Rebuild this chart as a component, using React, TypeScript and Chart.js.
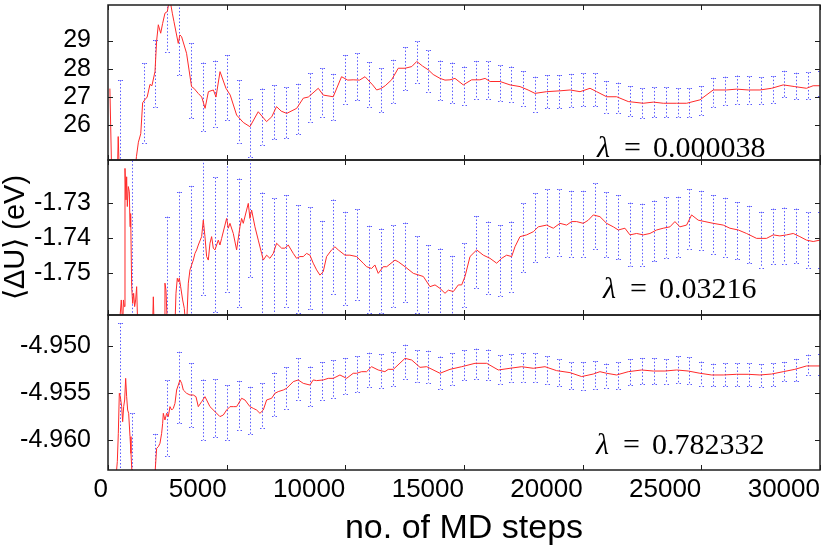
import { useEffect, useRef } from 'react';
import { Chart, registerables } from 'chart.js';

Chart.register(...registerables);

// ---------------- data ----------------
const X_TICKS = [0, 5000, 10000, 15000, 20000, 25000, 30000];
const X_TICK_LABELS = ['0', '5000', '10000', '15000', '20000', '25000', '30000'];
const X_RANGE = [0, 30000];

const TOP_RANGE = [24.77, 30.26];
const TOP_Y_TICKS = [26, 27, 28, 29];
const TOP_Y_LABELS = ['26', '27', '28', '29'];
const MID_RANGE = [-1.7621, -1.7178];
const MID_Y_TICKS = [-1.75, -1.74, -1.73];
const MID_Y_LABELS = ['-1.75', '-1.74', '-1.73'];
const BOT_RANGE = [-4.96314, -4.94665];
const BOT_Y_TICKS = [-4.96, -4.955, -4.95];
const BOT_Y_LABELS = ['-4.960', '-4.955', '-4.950'];

const LAMBDAS = ['0.000038', '0.03216', '0.782332'];

const Y_TITLE = '\u27E8\u0394U\u27E9 (eV)';
const X_TITLE = 'no. of MD steps';

// running average <dU> (x = MD step, y = eV)
const TOP_TRACE: [number, number][] = [
  [80, 27.3], [150, 24.5], [400, 24.4], [430, 25.6], [470, 24.5], [1150, 24.5], [1200, 24.9], [1280, 25.4], [1380, 25.7], [1460, 26.8],
  [1550, 26.9], [1650, 27.0], [1770, 27.45], [1850, 27.4], [1980, 27.9], [2050, 29.0], [2120, 29.56], [2220, 29.26], [2300, 29.6], [2400, 29.97],
  [2500, 30.03], [2600, 30.5], [2710, 29.97], [2780, 29.67], [2960, 28.9], [3030, 29.2], [3100, 29.14], [3310, 28.55], [3520, 27.37], [3620, 27.31],
  [3800, 27.13], [3950, 27.0], [4090, 26.6], [4230, 27.19], [4440, 27.25], [4550, 27.0], [4720, 27.9], [4970, 27.31], [5150, 27.07], [5420, 26.36],
  [5700, 26.1], [5980, 25.95], [6330, 26.48], [6680, 26.13], [6900, 26.3], [7100, 26.66], [7300, 26.5], [7530, 26.42], [7950, 26.6], [8230, 26.96],
  [8440, 27.0], [8860, 27.31], [9070, 27.07], [9490, 27.01], [9840, 27.72], [10100, 27.6], [10330, 27.61], [10600, 27.6], [10830, 27.72], [11150, 27.43],
  [11320, 27.25], [11500, 27.3], [11680, 27.4], [11950, 27.61], [12230, 28.02], [12520, 28.02], [12800, 28.08], [13010, 28.26], [13250, 28.1], [13500, 27.96],
  [13700, 27.8], [13990, 27.66], [14200, 27.6], [14410, 27.61], [14620, 27.66], [14970, 27.43], [15320, 27.61], [15670, 27.61], [15890, 27.66], [16100, 27.55],
  [16520, 27.55], [16940, 27.43], [17360, 27.37], [17700, 27.25], [17990, 27.13], [18480, 27.19], [19040, 27.22], [19470, 27.25], [19890, 27.19], [20310, 27.31],
  [20590, 27.19], [21010, 27.01], [21430, 27.01], [21920, 26.84], [22550, 26.78], [22980, 26.82], [23400, 26.78], [23960, 26.78], [24380, 26.78], [24940, 26.9],
  [25500, 27.25], [26060, 27.25], [26490, 27.28], [26980, 27.25], [27470, 27.25], [27960, 27.31], [28450, 27.43], [28940, 27.37], [29430, 27.31], [29710, 27.4], [29995, 27.4],
];

const MID_TRACE: [number, number][] = [
  [480, -1.765], [560, -1.7578], [620, -1.765], [650, -1.7578], [688, -1.7597], [716, -1.7202], [758, -1.7292], [786, -1.7226], [814, -1.7311], [856, -1.7254],
  [899, -1.7269], [927, -1.7369], [955, -1.7331], [997, -1.754], [1039, -1.7588], [1081, -1.7559], [1123, -1.7597], [1165, -1.7578], [1207, -1.754], [1250, -1.765],
  [1880, -1.765], [1910, -1.7569], [1940, -1.765], [2360, -1.765], [2400, -1.753], [2443, -1.755], [2500, -1.765], [2822, -1.765], [2864, -1.7559], [2920, -1.7516],
  [2962, -1.7526], [3005, -1.7516], [3061, -1.754], [3145, -1.7578], [3215, -1.7602], [3271, -1.765], [3313, -1.765], [3384, -1.753], [3454, -1.7492], [3524, -1.7478],
  [3594, -1.7464], [3664, -1.7445], [3735, -1.7435], [3805, -1.7421], [3945, -1.7397], [4015, -1.735], [4086, -1.7397], [4156, -1.7454], [4226, -1.7464], [4296, -1.7416],
  [4366, -1.7397], [4437, -1.743], [4507, -1.7435], [4647, -1.7407], [4717, -1.7421], [4788, -1.7402], [4928, -1.7364], [4998, -1.7345], [5069, -1.7373], [5139, -1.7359],
  [5279, -1.7388], [5419, -1.7435], [5560, -1.7369], [5630, -1.7345], [5700, -1.7359], [5840, -1.7321], [5911, -1.7302], [5981, -1.7345], [6051, -1.7321], [6192, -1.7369],
  [6332, -1.7407], [6473, -1.7445], [6543, -1.7464], [6683, -1.745], [6823, -1.7459], [6964, -1.7445], [7104, -1.7416], [7315, -1.743], [7455, -1.743], [7596, -1.7421],
  [7806, -1.7445], [7946, -1.7459], [8087, -1.7454], [8227, -1.7454], [8368, -1.7445], [8508, -1.745], [8648, -1.7473], [8789, -1.7492], [8930, -1.7507], [9070, -1.7497],
  [9210, -1.7454], [9421, -1.7435], [9561, -1.7426], [9702, -1.7435], [9983, -1.745], [10193, -1.745], [10474, -1.7454], [10755, -1.7473], [10895, -1.7483], [11106, -1.7488],
  [11246, -1.7478], [11386, -1.7502], [11597, -1.7483], [11743, -1.7483], [12094, -1.7464], [12234, -1.7469], [12515, -1.7483], [12866, -1.7502], [13287, -1.7511], [13568, -1.754],
  [13779, -1.7535], [13989, -1.7545], [14200, -1.7559], [14340, -1.755], [14551, -1.7554], [14761, -1.7535], [14902, -1.7535], [15042, -1.7511], [15253, -1.7454], [15534, -1.7435],
  [15814, -1.745], [16095, -1.7459], [16376, -1.7473], [16587, -1.7459], [16797, -1.745], [17008, -1.7454], [17148, -1.7426], [17359, -1.7397], [17640, -1.7392], [17920, -1.7383],
  [18131, -1.7369], [18482, -1.7364], [18763, -1.7373], [19044, -1.7359], [19324, -1.7364], [19535, -1.7354], [19745, -1.7354], [20026, -1.7359], [20237, -1.735], [20448, -1.7335],
  [20728, -1.734], [21009, -1.7359], [21290, -1.7369], [21501, -1.7378], [21781, -1.7373], [21992, -1.7392], [22273, -1.7388], [22554, -1.7392], [22834, -1.7388], [23115, -1.7378],
  [23396, -1.7373], [23677, -1.7369], [23887, -1.7354], [24098, -1.7369], [24379, -1.7364], [24589, -1.7335], [24870, -1.735], [25151, -1.7354], [25502, -1.7359], [25923, -1.7364],
  [26204, -1.7373], [26555, -1.7378], [26906, -1.7388], [27327, -1.7402], [27748, -1.7402], [28029, -1.7392], [28310, -1.7395], [28591, -1.7392], [28872, -1.7388], [29152, -1.7397],
  [29433, -1.7407], [29714, -1.7411], [29995, -1.7407],
];

const BOT_TRACE: [number, number][] = [
  [350, -4.9635], [393, -4.96225], [435, -4.95924], [477, -4.95498], [520, -4.95534], [576, -4.9564], [618, -4.958], [660, -4.9564], [702, -4.95569], [744, -4.95339],
  [786, -4.95534], [828, -4.95676], [870, -4.95711], [927, -4.95959], [969, -4.96137], [1011, -4.9635], [1980, -4.9635], [2050, -4.96083], [2120, -4.96066], [2190, -4.9603],
  [2260, -4.95924], [2303, -4.95817], [2331, -4.95711], [2400, -4.95782], [2471, -4.95711], [2541, -4.95746], [2611, -4.9564], [2682, -4.95676], [2752, -4.95658], [2822, -4.95605],
  [2892, -4.95463], [2962, -4.9541], [3033, -4.95356], [3103, -4.95392], [3173, -4.95463], [3313, -4.95498], [3454, -4.95516], [3594, -4.95516], [3706, -4.95534], [3805, -4.9564],
  [3945, -4.95587], [4086, -4.95534], [4156, -4.95569], [4296, -4.9564], [4507, -4.95693], [4717, -4.95746], [4858, -4.95729], [4998, -4.95676], [5139, -4.9564], [5279, -4.9564],
  [5419, -4.9564], [5630, -4.95551], [5770, -4.95569], [5981, -4.9564], [6121, -4.95658], [6262, -4.95676], [6402, -4.95711], [6543, -4.95676], [6683, -4.95569], [6894, -4.95551],
  [7034, -4.95498], [7174, -4.9548], [7385, -4.95463], [7526, -4.95445], [7666, -4.9541], [7806, -4.95374], [8016, -4.95356], [8227, -4.95392], [8508, -4.9541], [8648, -4.95356],
  [8789, -4.95363], [9070, -4.95356], [9280, -4.95339], [9491, -4.95339], [9772, -4.95303], [10053, -4.95339], [10333, -4.95285], [10474, -4.95285], [10685, -4.95268], [10895, -4.95268],
  [11106, -4.95215], [11386, -4.9525], [11667, -4.95268], [11808, -4.95243], [12024, -4.95243], [12515, -4.95126], [12796, -4.95144], [13147, -4.95222], [13428, -4.95215], [13989, -4.95285],
  [14410, -4.95243], [14902, -4.95215], [15463, -4.95179], [15955, -4.95179], [16446, -4.9525], [16938, -4.95232], [17429, -4.95215], [17920, -4.95232], [18412, -4.95215], [18903, -4.95257],
  [19465, -4.95278], [19956, -4.9532], [20448, -4.95293], [20728, -4.95268], [21009, -4.95285], [21430, -4.95303], [21922, -4.95268], [22483, -4.9525], [22975, -4.95261], [23466, -4.95261],
  [23958, -4.9525], [24449, -4.95261], [24940, -4.95285], [25432, -4.95303], [25923, -4.95303], [26485, -4.95296], [26976, -4.95296], [27468, -4.95303], [27959, -4.95293], [28450, -4.95268],
  [28942, -4.95243], [29433, -4.95207], [29995, -4.95207],
];

// error bars: every 500 MD steps
const BAR_STEPS = [
  500, 1000, 1500, 2000, 2500, 3000, 3500, 4000, 4500, 5000,
  5500, 6000, 6500, 7000, 7500, 8000, 8500, 9000, 9500, 10000,
  10500, 11000, 11500, 12000, 12500, 13000, 13500, 14000, 14500, 15000,
  15500, 16000, 16500, 17000, 17500, 18000, 18500, 19000, 19500, 20000,
  20500, 21000, 21500, 22000, 22500, 23000, 23500, 24000, 24500, 25000,
  25500, 26000, 26500, 27000, 27500, 28000, 28500, 29000, 29500, 30000,
];

const TOP_BAR_MEAN = [
  24.5, 22.0, 26.78, 27.83, 29.9, 29.1, 27.58, 27.0, 27.11, 27.34,
  26.48, 25.9, 26.3, 26.46, 26.44, 26.58, 26.97, 27.16, 27.0, 27.63,
  27.72, 27.44, 27.25, 27.56, 28.01, 28.23, 27.92, 27.59, 27.51, 27.4,
  27.6, 27.59, 27.49, 27.46, 27.3, 27.1, 27.19, 27.19, 27.24, 27.26,
  27.26, 27.01, 26.97, 26.86, 26.78, 26.81, 26.81, 26.8, 26.8, 26.88,
  27.17, 27.22, 27.26, 27.24, 27.23, 27.27, 27.46, 27.39, 27.4, 27.48,
];
const TOP_BAR_ERR = [
  3.1, 2.0, 1.42, 1.19, 1.29, 1.32, 1.33, 1.22, 1.18, 1.15,
  1.12, 1.02, 1.0, 0.96, 0.9, 0.89, 0.87, 0.86, 0.82, 0.86,
  0.83, 0.8, 0.77, 0.76, 0.76, 0.74, 0.73, 0.7, 0.71, 0.68,
  0.68, 0.67, 0.63, 0.62, 0.62, 0.62, 0.59, 0.59, 0.58, 0.58,
  0.58, 0.56, 0.54, 0.53, 0.53, 0.53, 0.53, 0.51, 0.51, 0.51,
  0.51, 0.5, 0.5, 0.49, 0.47, 0.47, 0.47, 0.47, 0.47, 0.46,
];

const MID_BAR_MEAN = [
  -1.8, -1.745, -1.8, -1.8, -1.755, -1.752, -1.749, -1.734, -1.742, -1.7355,
  -1.7414, -1.732, -1.745, -1.7465, -1.7438, -1.7461, -1.7459, -1.7495, -1.7426, -1.7459,
  -1.7448, -1.7491, -1.7495, -1.7481, -1.747, -1.7506, -1.7525, -1.7534, -1.7552, -1.7507,
  -1.7441, -1.7458, -1.7465, -1.7454, -1.74, -1.7371, -1.7358, -1.7357, -1.736, -1.736,
  -1.7338, -1.7362, -1.737, -1.7391, -1.7392, -1.7381, -1.7371, -1.7369, -1.7346, -1.7351,
  -1.7363, -1.737, -1.738, -1.7391, -1.7406, -1.7396, -1.7394, -1.7395, -1.7407, -1.7407,
];
const MID_BAR_ERR = [
  0.01, 0.03, 0.01, 0.01, 0.021, 0.0251, 0.0238, 0.0224, 0.0192, 0.0199,
  0.0183, 0.0193, 0.0179, 0.0177, 0.016, 0.0154, 0.0146, 0.0143, 0.0135, 0.0133,
  0.0129, 0.0125, 0.0121, 0.0116, 0.0113, 0.011, 0.0104, 0.0103, 0.01, 0.0091,
  0.0103, 0.0104, 0.0101, 0.01, 0.0098, 0.0098, 0.0096, 0.0095, 0.0094, 0.0094,
  0.0093, 0.0092, 0.0092, 0.0091, 0.0089, 0.0087, 0.0086, 0.0086, 0.0085, 0.0085,
  0.0085, 0.0084, 0.0082, 0.0082, 0.008, 0.0079, 0.008, 0.0078, 0.0079, 0.0079,
];

const BOT_BAR_MEAN = [
  -4.9575, -4.9615, -4.968, -4.9627, -4.95761, -4.95436, -4.95516, -4.95672, -4.95658, -4.95702,
  -4.95626, -4.95679, -4.95631, -4.95507, -4.9544, -4.95344, -4.95424, -4.95365, -4.95346, -4.95312,
  -4.95294, -4.95246, -4.95262, -4.95243, -4.95161, -4.95211, -4.95215, -4.95277, -4.95241, -4.952,
  -4.95183, -4.95193, -4.95245, -4.95232, -4.95223, -4.95223, -4.95254, -4.95277, -4.9531, -4.95316,
  -4.95307, -4.95312, -4.95309, -4.95273, -4.95262, -4.95264, -4.95266, -4.95245, -4.95255, -4.95291,
  -4.95303, -4.953, -4.953, -4.953, -4.95307, -4.953, -4.95264, -4.95252, -4.95197, -4.95193,
];
const BOT_BAR_ERR = [
  0.01, 0.0044, 0.003, 0.0034, 0.004, 0.0038, 0.0034, 0.0032, 0.0031, 0.0029,
  0.0026, 0.0025, 0.0024, 0.0023, 0.0022, 0.0022, 0.0021, 0.002, 0.002, 0.0019,
  0.0019, 0.0018, 0.0018, 0.0018, 0.0018, 0.0017, 0.0017, 0.0017, 0.0017, 0.0016,
  0.0016, 0.0016, 0.0015, 0.0015, 0.0015, 0.0015, 0.0015, 0.0014, 0.0014, 0.0015,
  0.0015, 0.0013, 0.0014, 0.0014, 0.0014, 0.0014, 0.0013, 0.0014, 0.0014, 0.0013,
  0.0012, 0.0012, 0.0012, 0.0012, 0.0012, 0.0012, 0.001, 0.0012, 0.0011, 0.0011,
];

// ---------------- styling ----------------
const SANS = '"Liberation Sans", Arial, Helvetica, sans-serif';
const SERIF = '"Liberation Serif", "DejaVu Serif", serif';
const LINE_COLOR = '#ff2a2a';
const BAR_COLOR = '#5a5aff';
const FRAME_COLOR = '#1e1e1e';

type Panel = {
  trace: [number, number][];
  range: number[];
  yTicks: number[];
  yLabels: string[];
  barMean: number[];
  barErr: number[];
  lambda: string;
  lambdaDx: number;
  lambdaDy: number;
  showX: boolean;
  showYTitle: boolean;
};

function errorBarPlugin(p: Panel) {
  return {
    id: 'errbars',
    beforeDatasetsDraw(chart: any) {
      const { ctx, chartArea: a, scales } = chart;
      ctx.save();
      ctx.beginPath();
      ctx.rect(a.left, a.top, a.right - a.left, a.bottom - a.top);
      ctx.clip();
      ctx.strokeStyle = BAR_COLOR;
      ctx.lineWidth = 1;
      ctx.setLineDash([1.5, 2]);
      for (let i = 0; i < BAR_STEPS.length; i++) {
        const x = Math.round(scales.x.getPixelForValue(BAR_STEPS[i])) + 0.5;
        const yt = scales.y.getPixelForValue(p.barMean[i] + p.barErr[i]);
        const yb = scales.y.getPixelForValue(p.barMean[i] - p.barErr[i]);
        ctx.beginPath();
        ctx.moveTo(x, yt);
        ctx.lineTo(x, yb);
        ctx.moveTo(x - 2.5, Math.round(yt) + 0.5);
        ctx.lineTo(x + 2.5, Math.round(yt) + 0.5);
        ctx.moveTo(x - 2.5, Math.round(yb) + 0.5);
        ctx.lineTo(x + 2.5, Math.round(yb) + 0.5);
        ctx.stroke();
      }
      ctx.restore();
    },
  };
}

const framePlugin = {
  id: 'frame',
  afterDatasetsDraw(chart: any) {
    const { ctx, chartArea: a, scales } = chart;
    ctx.save();
    ctx.setLineDash([]);
    ctx.strokeStyle = FRAME_COLOR;
    ctx.lineWidth = 1;
    ctx.beginPath();
    for (const v of X_TICKS) {
      const px = Math.round(scales.x.getPixelForValue(v)) + 0.5;
      ctx.moveTo(px, a.top);
      ctx.lineTo(px, a.top + 5);
      ctx.moveTo(px, a.bottom);
      ctx.lineTo(px, a.bottom - 5);
    }
    for (const t of scales.y.ticks) {
      const py = Math.round(scales.y.getPixelForValue(t.value)) + 0.5;
      ctx.moveTo(a.left, py);
      ctx.lineTo(a.left + 5, py);
      ctx.moveTo(a.right, py);
      ctx.lineTo(a.right - 5, py);
    }
    ctx.stroke();
    ctx.lineWidth = 1.5;
    ctx.strokeRect(a.left, a.top, a.right - a.left, a.bottom - a.top);
    ctx.restore();
  },
};

function lambdaPlugin(p: Panel) {
  return {
    id: 'lambda',
    afterDraw(chart: any) {
      const { ctx, chartArea: a } = chart;
      const x = a.left + p.lambdaDx;
      const y = a.bottom - p.lambdaDy;
      ctx.save();
      ctx.fillStyle = '#000';
      ctx.textAlign = 'left';
      ctx.textBaseline = 'alphabetic';
      ctx.font = 'italic 30px ' + SERIF;
      ctx.fillText('\u03BB', x, y);
      ctx.font = '30px ' + SERIF;
      ctx.fillText('=', x + 27, y);
      ctx.fillText(p.lambda, x + 56, y);
      ctx.restore();
    },
  };
}

function makeChart(canvas: HTMLCanvasElement, p: Panel) {
  return new Chart(canvas, {
    type: 'line',
    data: {
      datasets: [
        {
          data: p.trace.map(([x, y]) => ({ x, y })),
          borderColor: LINE_COLOR,
          borderWidth: 1,
          pointRadius: 0,
          tension: 0,
          fill: false,
          clip: 0,
        } as any,
      ],
    },
    options: {
      responsive: false,
      animation: false,
      devicePixelRatio: 1,
      events: [],
      layout: { padding: { left: 0, right: 10, top: 5, bottom: p.showX ? 0 : 5 } },
      plugins: { legend: { display: false }, tooltip: { enabled: false } },
      scales: {
        x: {
          type: 'linear',
          min: X_RANGE[0],
          max: X_RANGE[1],
          display: p.showX,
          afterBuildTicks: (s: any) => {
            s.ticks = X_TICKS.map((v) => ({ value: v }));
          },
          afterFit: (s: any) => {
            s.height = p.showX ? 84 : 0;
            s.paddingLeft = 0;
            s.paddingRight = 0;
          },
          grid: { display: false, drawTicks: false },
          border: { display: false },
          ticks: {
            align: 'end',
            padding: 4,
            maxRotation: 0,
            autoSkip: false,
            color: '#000',
            font: { family: SANS, size: 26 },
            callback: (_v: any, i: number) => X_TICK_LABELS[i],
          },
          title: {
            display: true,
            text: X_TITLE,
            color: '#000',
            font: { family: SANS, size: 34 },
            padding: { top: 0, bottom: 5 },
          },
        } as any,
        y: {
          type: 'linear',
          min: p.range[0],
          max: p.range[1],
          afterBuildTicks: (s: any) => {
            s.ticks = p.yTicks.map((v) => ({ value: v }));
          },
          afterFit: (s: any) => {
            s.width = 108;
            s.paddingTop = 0;
            s.paddingBottom = 0;
          },
          grid: { display: false, drawTicks: false },
          border: { display: false },
          ticks: {
            padding: 17,
            autoSkip: false,
            color: '#000',
            font: { family: SANS, size: 25 },
            callback: (_v: any, i: number) => p.yLabels[i],
          },
          title: {
            display: p.showYTitle,
            text: Y_TITLE,
            color: '#000',
            font: { family: SANS, size: 29 },
            padding: { top: -1, bottom: 0 },
          },
        } as any,
      },
    } as any,
    plugins: [errorBarPlugin(p), framePlugin, lambdaPlugin(p)],
  });
}

const PANELS: Panel[] = [
  {
    trace: TOP_TRACE, range: TOP_RANGE, yTicks: TOP_Y_TICKS, yLabels: TOP_Y_LABELS,
    barMean: TOP_BAR_MEAN, barErr: TOP_BAR_ERR, lambda: LAMBDAS[0], lambdaDx: 489, lambdaDy: 3,
    showX: false, showYTitle: false,
  },
  {
    trace: MID_TRACE, range: MID_RANGE, yTicks: MID_Y_TICKS, yLabels: MID_Y_LABELS,
    barMean: MID_BAR_MEAN, barErr: MID_BAR_ERR, lambda: LAMBDAS[1], lambdaDx: 495, lambdaDy: 17,
    showX: false, showYTitle: true,
  },
  {
    trace: BOT_TRACE, range: BOT_RANGE, yTicks: BOT_Y_TICKS, yLabels: BOT_Y_LABELS,
    barMean: BOT_BAR_MEAN, barErr: BOT_BAR_ERR, lambda: LAMBDAS[2], lambdaDx: 488, lambdaDy: 16,
    showX: true, showYTitle: false,
  },
];

export default function App() {
  const r1 = useRef<HTMLCanvasElement>(null);
  const r2 = useRef<HTMLCanvasElement>(null);
  const r3 = useRef<HTMLCanvasElement>(null);

  useEffect(() => {
    const refs = [r1, r2, r3];
    const charts = refs.map((r, i) => makeChart(r.current as HTMLCanvasElement, PANELS[i]));
    return () => charts.forEach((c) => c.destroy());
  }, []);

  return (
    <div style={{ position: 'absolute', left: 0, top: 0, width: 830, height: 554, background: '#fff', overflow: 'hidden' }}>
      <canvas ref={r1} width={830} height={165} style={{ position: 'absolute', left: 0, top: 0 }} />
      <canvas ref={r2} width={830} height={165} style={{ position: 'absolute', left: 0, top: 155 }} />
      <canvas ref={r3} width={830} height={244} style={{ position: 'absolute', left: 0, top: 310 }} />
    </div>
  );
}
